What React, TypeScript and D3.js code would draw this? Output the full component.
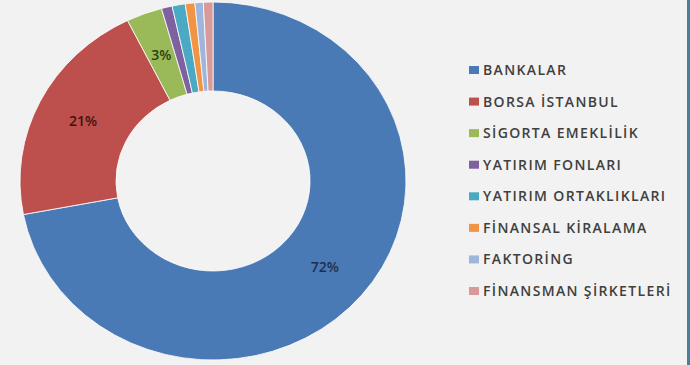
import React, { useEffect, useRef } from 'react'
import * as d3 from 'd3'

const categories = [
  'BANKALAR',
  'BORSA İSTANBUL',
  'SİGORTA EMEKLİLİK',
  'YATIRIM FONLARI',
  'YATIRIM ORTAKLIKLARI',
  'FİNANSAL KİRALAMA',
  'FAKTORİNG',
  'FİNANSMAN ŞİRKETLERİ'
]
const shares = [72.0, 20.7, 3.0, 0.9, 1.1, 0.8, 0.7, 0.8]
const labels = ['72%', '21%', '3%', '', '', '', '', '']
const colors = ['#4a7ab5', '#bd4f4c', '#9aba5a', '#7e62a0', '#4aaac4', '#f29445', '#9fb6dc', '#d8999a']
const labelColors = ['#1c2f52', '#3d1413', '#2d3f12']

const App: React.FC = () => {
  const svgRef = useRef<SVGSVGElement | null>(null)

  useEffect(() => {
    document.body.style.margin = '0'
    if (!svgRef.current) return
    const svg = d3.select(svgRef.current)
    svg.selectAll('*').remove()

    const width = 690
    const height = 365
    const cx = 213
    const cy = 181
    const outer = 179
    const inner = 90
    const sx = 193 / 179 // picture is stretched horizontally

    svg.attr('width', width).attr('height', height)

    svg.append('rect').attr('width', width).attr('height', height).attr('fill', '#f2f2f2')
    svg.append('rect').attr('x', 687).attr('y', 0).attr('width', 3).attr('height', height).attr('fill', '#4a7f9a')

    const pie = d3.pie<number>().sort(null).value((d) => d)
    const arcs = pie(shares)
    const arc = d3.arc<d3.PieArcDatum<number>>().innerRadius(inner).outerRadius(outer)

    const g = svg.append('g').attr('transform', `translate(${cx},${cy}) scale(${sx},1)`)
    g.selectAll('path')
      .data(arcs)
      .join('path')
      .attr('d', arc)
      .attr('fill', (d, i) => colors[i])
      .attr('stroke', '#ffffff')
      .attr('stroke-width', 0.8)
      .attr('vector-effect', 'non-scaling-stroke')

    // percent labels on the big slices
    svg
      .append('g')
      .selectAll('text')
      .data(arcs.filter((d, i) => labels[i]))
      .join('text')
      .attr('x', (d) => cx + arc.centroid(d)[0] * sx)
      .attr('y', (d) => cy + arc.centroid(d)[1])
      .attr('dy', '0.35em')
      .attr('text-anchor', 'middle')
      .attr('font-family', 'Open Sans, sans-serif')
      .attr('font-size', 14)
      .attr('font-weight', 600)
      .attr('fill', (d) => labelColors[d.index])
      .text((d) => labels[d.index])

    // legend
    const legendY = d3.scalePoint<string>().domain(categories).range([70, 291])
    const legend = svg
      .append('g')
      .selectAll('g')
      .data(categories)
      .join('g')
      .attr('transform', (d) => `translate(469,${legendY(d)})`)
    legend
      .append('rect')
      .attr('x', 0)
      .attr('y', -4)
      .attr('width', 10)
      .attr('height', 8)
      .attr('fill', (d, i) => colors[i])
    legend
      .append('text')
      .attr('x', 14)
      .attr('dy', '0.36em')
      .attr('font-family', 'Open Sans, sans-serif')
      .attr('font-size', 14)
      .attr('font-weight', 600)
      .attr('letter-spacing', 1.35)
      .attr('fill', '#404040')
      .text((d) => d)
  }, [])

  return <svg ref={svgRef} style={{ display: 'block' }}></svg>
}

export default App
